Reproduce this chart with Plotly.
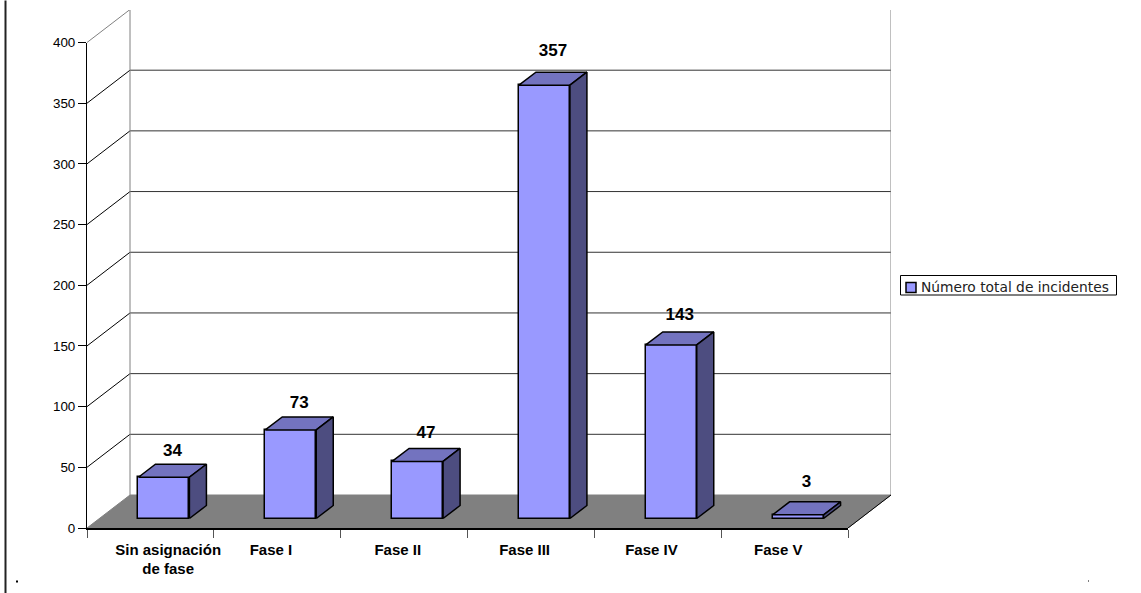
import plotly.graph_objects as go

# ---- data ----
categories = ["Sin asignación<br>de fase", "Fase I", "Fase II", "Fase III", "Fase IV", "Fase V"]
values = [34, 73, 47, 357, 143, 3]
series_name = "Número total de incidentes"
y_ticks = [0, 50, 100, 150, 200, 250, 300, 350, 400]
label_tick_pos = [0.64, 1.45, 2.45, 3.45, 4.45, 5.45]
label_lift = [12, 13, 15, 20, 16, 19]  # px above back edge of bar top

# ---- pixel geometry of the pseudo-3D box ----
W, H = 1141, 593
L, R, T, B = 87, 891, 9.5, 527.5      # full box incl. depth
FRONT_W, FRONT_H = 761, 485.5
DEPTH_PX_X, DEPTH_PX_Y = 43, 33
px_per_cat = FRONT_W / len(values)
px_per_val = FRONT_H / 400
dx = DEPTH_PX_X / px_per_cat
dy = DEPTH_PX_Y / px_per_val
x_full = (R - L) / px_per_cat
y_full = (B - T) / px_per_val

bar_w = 51 / px_per_cat
bar_off_x = 13.5 / px_per_cat
bar_off_y = 9.5 / px_per_val
bar_dx = 17 / px_per_cat
bar_dy = 13 / px_per_val

FRONT, TOP, SIDE = "#9999FF", "#7373BF", "#4D4D80"
fig = go.Figure()


def px_x(p):
    return (p - L) / (R - L)


def px_y(p):
    return (B - p) / (B - T)


# ---- floor & walls (back subplot) ----
n = len(values)
fig.add_trace(go.Scatter(x=[0, n, n + dx, dx, 0], y=[0, 0, dy, dy, 0], fill="toself",
                         fillcolor="#808080", mode="lines", line=dict(color="#808080", width=1),
                         showlegend=False, hoverinfo="skip"))
grid_back_x, grid_back_y, grid_side_x, grid_side_y = [], [], [], []
for v in y_ticks[1:-1]:
    grid_back_x += [dx, n + dx, None]
    grid_back_y += [v + dy, v + dy, None]
    grid_side_x += [0, dx, None]
    grid_side_y += [v, v + dy, None]
fig.add_trace(go.Scatter(x=grid_back_x, y=grid_back_y, mode="lines",
                         line=dict(color="#333333", width=1), showlegend=False, hoverinfo="skip"))
fig.add_trace(go.Scatter(x=grid_side_x, y=grid_side_y, mode="lines",
                         line=dict(color="#000000", width=1), showlegend=False, hoverinfo="skip"))
top = y_ticks[-1]
fig.add_trace(go.Scatter(x=[0, dx, dx, None, dx, n + dx, n + dx],
                         y=[top, top + dy, dy, None, top + dy, top + dy, dy],
                         mode="lines", line=dict(color="#808080", width=1),
                         showlegend=False, hoverinfo="skip"))
fig.add_trace(go.Scatter(x=[n, n + dx], y=[0, dy], mode="lines",
                         line=dict(color="#000000", width=1), showlegend=False, hoverinfo="skip"))

# ---- bars (middle subplot) ----
lefts = [i + bar_off_x + 0.5 - bar_w / 2 for i in range(n)]
centers = [l + bar_w / 2 for l in lefts]
fig.add_trace(go.Bar(x=centers, y=values, base=[bar_off_y] * n, width=bar_w, name=series_name,
                     marker=dict(color=FRONT, line=dict(color="#000000", width=1.5)),
                     xaxis="x2", yaxis="y2", hoverinfo="skip", showlegend=False))
top_x, top_y, side_x, side_y = [], [], [], []
for l, v in zip(lefts, values):
    yt = bar_off_y + v
    r = l + bar_w
    top_x += [l, r, r + bar_dx, l + bar_dx, l, None]
    top_y += [yt, yt, yt + bar_dy, yt + bar_dy, yt, None]
    side_x += [r, r + bar_dx, r + bar_dx, r, r, None]
    side_y += [bar_off_y, bar_off_y + bar_dy, yt + bar_dy, yt, bar_off_y, None]
for xs, ys, col in [(top_x, top_y, TOP), (side_x, side_y, SIDE)]:
    fig.add_trace(go.Scatter(x=xs, y=ys, fill="toself", fillcolor=col, mode="lines",
                             line=dict(color="#000000", width=1.5), xaxis="x2", yaxis="y2",
                             showlegend=False, hoverinfo="skip"))
fig.add_trace(go.Scatter(
    x=[c + bar_dx / 2 for c in centers],
    y=[bar_off_y + v + bar_dy + lift / px_per_val for v, lift in zip(values, label_lift)],
    text=[str(v) for v in values], mode="text", textposition="middle center",
    textfont=dict(family="Liberation Sans, Arial", size=17, color="#000000"),
    texttemplate="<b>%{text}</b>", xaxis="x2", yaxis="y2", showlegend=False, hoverinfo="skip"))

# ---- visible front axes (own subplot, empty trace to activate) ----
fig.add_trace(go.Scatter(x=[None], y=[None], xaxis="x3", yaxis="y3", showlegend=False, hoverinfo="skip"))

hidden = dict(visible=False, showgrid=False, zeroline=False, fixedrange=True)
fig.update_layout(
    width=W, height=H, autosize=False,
    margin=dict(l=L, r=W - R, t=3, b=64.5, pad=0),
    paper_bgcolor="#FFFFFF", plot_bgcolor="rgba(0,0,0,0)",
    font=dict(family="Liberation Sans, Arial", color="#000000"),
    barmode="overlay", bargap=0, showlegend=False,
    xaxis=dict(range=[0, x_full], domain=[0, 1], anchor="y", **hidden),
    yaxis=dict(range=[0, y_full], domain=[0, 1], anchor="x", **hidden),
    xaxis2=dict(range=[0, x_full], domain=[0, 1], anchor="y2", **hidden),
    yaxis2=dict(range=[0, y_full], domain=[0, 1], anchor="x2", **hidden),
    xaxis3=dict(range=[0, n], domain=[0, FRONT_W / (R - L)], anchor="y3", showgrid=False, zeroline=False,
                showline=True, linecolor="#000000", linewidth=1.5, fixedrange=True,
                tickmode="array", tickvals=label_tick_pos, ticktext=[f"<b>{c}</b>" for c in categories],
                ticks="outside", ticklen=7, tickcolor="rgba(0,0,0,0)",
                tickfont=dict(family="Liberation Sans, Arial", size=15, color="#000000"), tickangle=0,
                minor=dict(tickmode="array", tickvals=list(range(n + 1)), ticks="outside", ticklen=8,
                           tickcolor="#555555", tickwidth=1, showgrid=False)),
    yaxis3=dict(range=[0, top], domain=[0, FRONT_H / (B - T)], anchor="x3", showgrid=False, zeroline=False,
                showline=True, linecolor="#000000", linewidth=1, fixedrange=True,
                tickmode="array", tickvals=y_ticks, ticks="outside", ticklen=8,
                tickcolor="#000000", tickwidth=1,
                tickfont=dict(family="Liberation Sans, Arial", size=13.4, color="#000000")),
    annotations=[
        dict(xref="paper", yref="paper", x=px_x(920), y=px_y(286), xanchor="left", yanchor="middle",
             text=series_name, showarrow=False, borderpad=0,
             font=dict(family="DejaVu Sans", size=13.8, color="#222222")),
    ],
    shapes=[
        dict(type="rect", xref="paper", yref="paper", x0=px_x(900.5), x1=px_x(1116.5), y0=px_y(294.5), y1=px_y(275),
             fillcolor="#FFFFFF", line=dict(color="#000000", width=1), layer="below"),
        dict(type="rect", xref="paper", yref="paper", x0=px_x(906), x1=px_x(916), y0=px_y(292), y1=px_y(282),
             fillcolor=FRONT, line=dict(color="#000000", width=1.5)),
        dict(type="line", xref="paper", yref="paper", x0=px_x(5.5), x1=px_x(5.5), y0=px_y(H), y1=px_y(0),
             line=dict(color="#222222", width=2)),
        dict(type="rect", xref="paper", yref="paper", x0=px_x(16), x1=px_x(18), y0=px_y(582), y1=px_y(580),
             fillcolor="#000000", line=dict(width=0)),
        dict(type="rect", xref="paper", yref="paper", x0=px_x(1088), x1=px_x(1089), y0=px_y(581), y1=px_y(580),
             fillcolor="#000000", line=dict(width=0)),
    ],
)
fig.write_html("out.html", config={"displayModeBar": False},
               post_script="document.body.style.margin='0';document.body.style.overflow='hidden';")
